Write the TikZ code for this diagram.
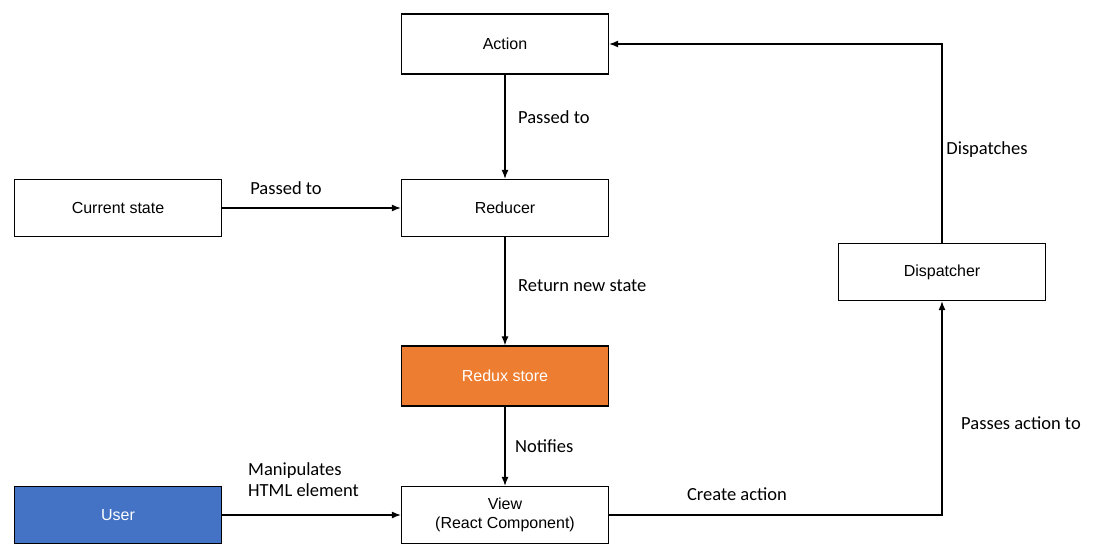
\documentclass[tikz,border=0pt]{standalone}
\usepackage{fontspec}
\setmainfont{Liberation Sans}
\newfontfamily\labelfont{Carlito}
\usetikzlibrary{arrows.meta}
\definecolor{storeorange}{HTML}{ED7D31}
\definecolor{userblue}{HTML}{4472C4}

\begin{document}
\begin{tikzpicture}[x=1pt,y=-1pt,
    box/.style={draw, line width=1.3pt, minimum width=207pt, minimum height=57pt,
                align=center, inner sep=0pt, font=\fontsize{16}{19}\selectfont},
    flow/.style={-{Latex[length=9pt,width=7pt]}, line width=1.2pt},
    lbl/.style={font=\labelfont\fontsize{18.5}{21}\selectfont, align=left, inner sep=0pt}]
    \useasboundingbox (0,0) rectangle (1094,545);
    % Boxes
    \node[box, minimum height=60pt] (action) at (505,44) {Action};
    \node[box] (current) at (118,208) {Current state};
    \node[box] (reducer) at (505,208) {Reducer};
    \node[box, minimum height=60pt, fill=storeorange, text=white] (store) at (505,376) {Redux store};
    \node[box, fill=userblue, text=white] (user) at (118,515) {User};
    \node[box] (view) at (505,515) {View\\(React Component)};
    \node[box] (dispatcher) at (942,272) {Dispatcher};
    % Connectors
    \draw[flow] (action) -- (reducer);
    \draw[flow] (current) -- (reducer);
    \draw[flow] (reducer) -- (store);
    \draw[flow] (store) -- (view);
    \draw[flow] (user) -- (view);
    \draw[flow] (view.east) -| (dispatcher.south);
    \draw[flow] (dispatcher.north) |- (action.east);
    % Labels
    \node[lbl, anchor=west] (lpassed) at (518,117) {Passed to};
    \node[lbl] (lcurrent) at (286,188) {Passed to};
    \node[lbl, anchor=west] (lreturn) at (518,286) {Return new state};
    \node[lbl, anchor=west] (lnotify) at (515,446) {Notifies};
    \node[lbl, anchor=west] (lmanip) at (248,480) {Manipulates\\HTML element};
    \node[lbl] (lcreate) at (737,494) {Create action};
    \node[lbl] (lpasses) at (1021,423) {Passes action to};
    \node[lbl] (ldispatch) at (987,150) {Dispatches};
\end{tikzpicture}
\end{document}
